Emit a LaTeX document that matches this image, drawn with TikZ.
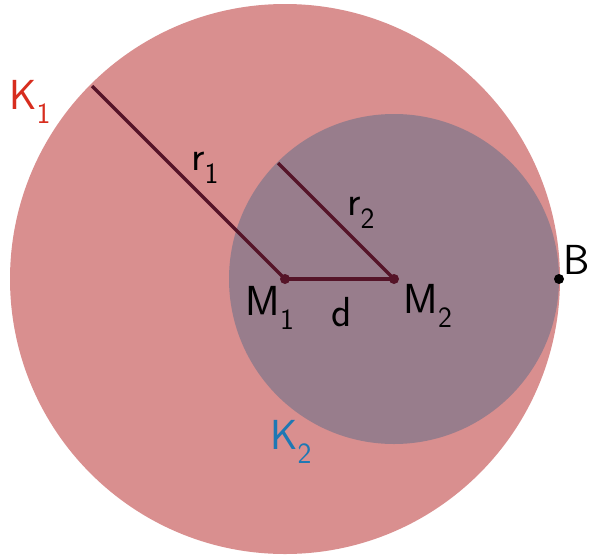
\documentclass[tikz,border=0pt]{standalone}
\usepackage{fontspec}
\usepackage{tikz}
\definecolor{bigc}{RGB}{217,143,143}
\definecolor{smallc}{RGB}{152,125,140}
\definecolor{linec}{RGB}{85,20,40}
\definecolor{kred}{RGB}{215,45,30}
\definecolor{kblue}{RGB}{30,120,180}
\newcommand{\lbsub}[2]{#1\raisebox{-0.12ex}{\textsubscript{#2}}}
\tikzset{lab/.style={font=\fontsize{42}{50}\selectfont\sffamily, inner sep=0pt},
  seg/.style={draw=linec, line width=3.5pt},
  dot/.style={circle, fill=linec, inner sep=0pt, minimum size=10pt}}
\begin{document}
\begin{tikzpicture}[x=1pt,y=-1pt]
\useasboundingbox (0,0) rectangle (599,557);
\coordinate (M1) at (285,279);
\coordinate (M2) at (394,279);
\fill[bigc] (M1) circle (275);
\fill[smallc] (M2) circle (165);
\coordinate (P1) at (92,86);
\coordinate (P2) at (278,163);
\draw[seg] (P1) -- (M1);
\draw[seg] (P2) -- (M2);
\draw[seg] (M1) -- (M2);
\node[dot] (m1) at (M1) {};
\node[dot] (m2) at (M2) {};
\node[dot, fill=black] (b) at (559,279) {};
\node[lab, text=kred] (k1) at (30,102) {\lbsub{K}{1}};
\node[lab, text=kblue] (k2) at (291,442) {\lbsub{K}{2}};
\node[lab] (r1) at (205,168) {\lbsub{r}{1}};
\node[lab] (r2) at (361,213) {\lbsub{r}{2}};
\node[lab] (l1) at (270,308) {\lbsub{M}{1}};
\node[lab] (ld) at (342,312) {d};
\node[lab] (l2) at (428,306) {\lbsub{M}{2}};
\node[lab] (lb) at (577,260) {B};
\end{tikzpicture}
\end{document}
